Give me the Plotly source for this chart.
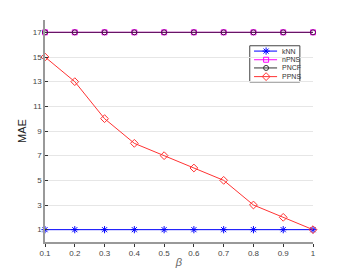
import plotly.graph_objects as go

beta = [0.1, 0.2, 0.3, 0.4, 0.5, 0.6, 0.7, 0.8, 0.9, 1.0]
knn = [1, 1, 1, 1, 1, 1, 1, 1, 1, 1]
npns = [17, 17, 17, 17, 17, 17, 17, 17, 17, 17]
pncf = [17, 17, 17, 17, 17, 17, 17, 17, 17, 17]
ppns = [15, 13, 10, 8, 7, 6, 5, 3, 2, 1]
yticks = [1, 3, 5, 7, 9, 11, 13, 15, 17]
xticks = [0.1, 0.2, 0.3, 0.4, 0.5, 0.6, 0.7, 0.8, 0.9, 1]
xticklabels = ["0.1", "0.2", "0.3", "0.4", "0.5", "0.6", "0.7", "0.8", "0.9", "1"]

series_names = ["kNN", "nPNS", "PNCF", "PPNS"]
series_values = [knn, npns, pncf, ppns]
series_colors = ["#0000ff", "#ff00ff", "#4a1448", "#ff3333"]
legend_colors = ["#0000ff", "#ff00ff", "#333333", "#ff3333"]
series_symbols = ["asterisk-open", "square-open", "circle-open", "diamond-open"]
series_sizes = [6, 5, 5, 6]

fig = go.Figure()
for name, vals, col, sym, sz in zip(series_names, series_values, series_colors, series_symbols, series_sizes):
    fig.add_trace(go.Scatter(x=beta, y=vals, name=name, mode="lines+markers", showlegend=False,
                             cliponaxis=False,
                             line=dict(color=col, width=1),
                             marker=dict(symbol=sym, size=sz, color=col, line=dict(width=1, color=col))))

# compact MATLAB-style legend (paper coordinates)
lx0, lx1, ly0, ly1 = 0.764, 0.951, 0.721, 0.884
entry_y = [0.860, 0.821, 0.784, 0.745]
line_x = [0.780, 0.866]
mark_x = 0.825
text_x = 0.877

shapes = [dict(type="rect", xref="paper", yref="paper", x0=lx0, x1=lx1, y0=ly0, y1=ly1,
               line=dict(color="#444444", width=1), fillcolor="white", layer="between")]
annotations = []
for name, col, sym, sz, ey in zip(series_names, legend_colors, series_symbols, series_sizes, entry_y):
    fig.add_trace(go.Scatter(x=line_x, y=[ey, ey], xaxis="x2", yaxis="y2", mode="lines",
                             line=dict(color=col, width=1), showlegend=False, hoverinfo="skip"))
    fig.add_trace(go.Scatter(x=[mark_x], y=[ey], xaxis="x2", yaxis="y2", mode="markers",
                             marker=dict(symbol=sym, size=sz, color=col, line=dict(width=1, color=col)),
                             showlegend=False, hoverinfo="skip"))
    annotations.append(dict(xref="paper", yref="paper", x=text_x, y=ey, text=name, showarrow=False,
                            xanchor="left", yanchor="middle", font=dict(size=7, color="#333333")))

fig.update_layout(
    width=346, height=273,
    margin=dict(l=45, r=33, t=20, b=31, autoexpand=False),
    paper_bgcolor="white", plot_bgcolor="white",
    font=dict(family="Liberation Sans, Arial, sans-serif", size=8, color="#444444"),
    showlegend=False,
    shapes=shapes, annotations=annotations,
    xaxis=dict(range=[0.1, 1], tickvals=xticks, ticktext=xticklabels,
               showgrid=False, zeroline=False, showline=True, linecolor="#999999", linewidth=1.5,
               ticks="outside", ticklen=3, tickcolor="#333333", automargin=False,
               title=dict(text="<i>β</i>", font=dict(size=11, color="#666666"), standoff=1)),
    yaxis=dict(range=[0, 18], tickvals=yticks, showgrid=True, gridcolor="#e6e6e6", gridwidth=1,
               zeroline=False, showline=True, linecolor="#999999", linewidth=1.5,
               ticks="inside", ticklen=3, tickcolor="#333333", automargin=False,
               title=dict(text="MAE", font=dict(size=11, color="#222222"), standoff=4)),
    xaxis2=dict(overlaying="x", range=[0, 1], visible=False, fixedrange=True),
    yaxis2=dict(overlaying="y", range=[0, 1], visible=False, fixedrange=True),
)
fig.write_html("out.html", post_script="document.body.style.margin='0';",
               config={"displayModeBar": False})
